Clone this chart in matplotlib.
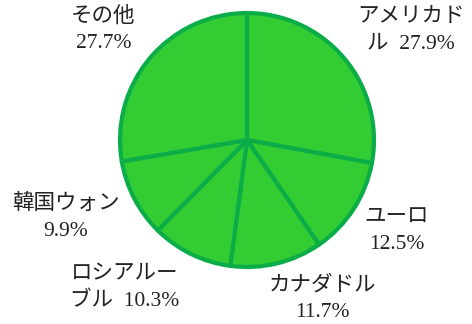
import matplotlib
matplotlib.use("Agg")
import matplotlib.pyplot as plt
import numpy as np

categories = ["アメリカドル", "ユーロ", "カナダドル", "ロシアルーブル", "韓国ウォン", "その他"]
shares = [27.9, 12.5, 11.7, 10.3, 9.9, 27.7]
# label centres, in units of the pie radius relative to its centre
label_xy = [(1.29, 0.86), (1.18, -0.72), (0.59, -1.25), (-0.96, -1.17), (-1.43, -0.61), (-1.13, 0.87)]


def make_label(name, value):
    if len(name) > 5:
        text = f"{name}  {value}%"
        return text[:5] + "\n" + text[5:]
    return f"{name}\n{value}%"


W, H = 472, 324
R = 127.0
cx, cy = 247.0, 140.0

fig = plt.figure(figsize=(W / 100, H / 100), dpi=100)
ax = fig.add_axes([0, 0, 1, 1])

ax.pie(shares, startangle=90, counterclock=False, radius=1.0,
       colors=["#33cc33"] * len(shares),
       wedgeprops=dict(edgecolor="#0aad48", linewidth=3.0, joinstyle="round"))
ax.set_xlim(-cx / R, (W - cx) / R)
ax.set_ylim(-(H - cy) / R, cy / R)
ax.set_aspect("auto")
ax.axis("off")

for name, value, (lx, ly) in zip(categories, shares, label_xy):
    ax.text(lx, ly, make_label(name, value), ha="center", va="center",
            fontsize=15.5, linespacing=1.55, color="#222222",
            family=["Liberation Serif", "Noto Sans CJK JP"])

fig.savefig("out.png", dpi=100)
